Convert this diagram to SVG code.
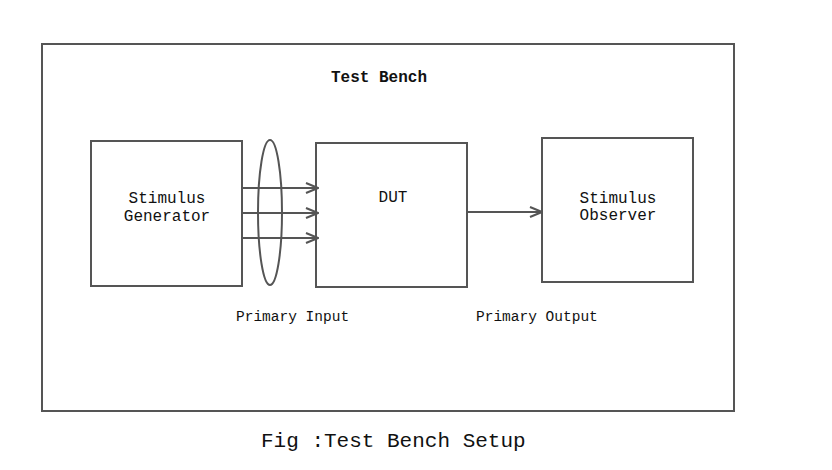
<svg xmlns="http://www.w3.org/2000/svg" width="832" height="470" viewBox="0 0 832 470">
<style>
.box{fill:none;stroke:#555;stroke-width:2}
.conn{stroke:#555;stroke-width:2;fill:none}
.t{font-family:"Liberation Mono","Courier New",monospace;font-size:16px;fill:#111}
.s{font-family:"Liberation Mono","Courier New",monospace;font-size:14.5px;fill:#111}
</style>
<defs>
<marker id="ah" markerWidth="14" markerHeight="12" refX="13" refY="6" orient="auto" markerUnits="userSpaceOnUse">
<path d="M1,1 L13,6 L1,11" fill="none" stroke="#555" stroke-width="2"/>
</marker>
</defs>
<rect width="832" height="470" fill="#fff"/>
<g id="testbench">
<rect class="box" x="42" y="44" width="692" height="367"/>
<text class="t" x="379" y="82" text-anchor="middle" font-weight="bold">Test Bench</text>
</g>
<g id="generator">
<rect class="box" x="91" y="141" width="151" height="145"/>
<text class="t" x="167" y="203" text-anchor="middle">Stimulus</text>
<text class="t" x="167" y="221" text-anchor="middle">Generator</text>
</g>
<g id="dut">
<rect class="box" x="316" y="143" width="151" height="144"/>
<text class="t" x="393" y="202" text-anchor="middle">DUT</text>
</g>
<g id="observer">
<rect class="box" x="542" y="138" width="151" height="144"/>
<text class="t" x="618" y="203" text-anchor="middle">Stimulus</text>
<text class="t" x="618" y="220" text-anchor="middle">Observer</text>
</g>
<g id="connectors">
<line class="conn" x1="243" y1="188" x2="318" y2="188" marker-end="url(#ah)"/>
<line class="conn" x1="243" y1="213" x2="318" y2="213" marker-end="url(#ah)"/>
<line class="conn" x1="243" y1="238" x2="318" y2="238" marker-end="url(#ah)"/>
<line class="conn" x1="467" y1="212" x2="542" y2="212" marker-end="url(#ah)"/>
<ellipse class="conn" cx="270" cy="212.5" rx="12" ry="72.5"/>
</g>
<g id="labels">
<text class="s" x="236" y="321">Primary Input</text>
<text class="s" x="476" y="321">Primary Output</text>
<text class="t" x="261" y="447" style="font-size:21px">Fig :Test Bench Setup</text>
</g>
</svg>
